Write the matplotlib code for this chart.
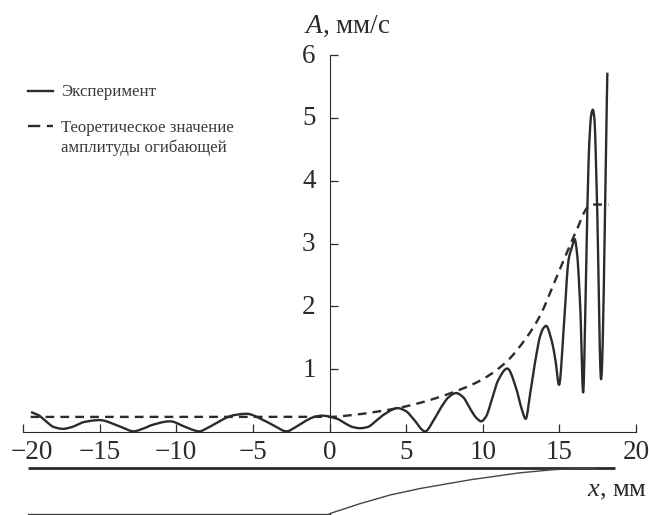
import matplotlib
matplotlib.use("Agg")
from matplotlib import pyplot as plt
from matplotlib.lines import Line2D
from matplotlib.transforms import ScaledTranslation
import numpy as np

plt.rcParams["font.family"] = ["Liberation Serif", "DejaVu Serif"]
plt.rcParams["mathtext.fontset"] = "custom"
plt.rcParams["mathtext.rm"] = "Liberation Serif"
plt.rcParams["mathtext.it"] = "Liberation Serif:italic"

INK = "#2b2b2b"

exp_x = [-19.4, -19.0, -18.5, -18.0, -17.4, -16.8, -16.0, -15.0, -14.0, -13.4, -12.8, -12.2, -11.6,
         -10.4, -9.5, -9.0, -8.5, -8.0, -7.4, -6.8, -6.2, -5.4, -4.4, -3.6, -2.8,
         -2.2, -1.6, -1.0, -0.5, 0.5, 1.0, 1.5, 2.0, 2.5, 3.0, 3.5, 4.46, 5.0, 5.5, 6.24, 6.8, 7.3, 7.8,
         8.26, 8.7, 9.2, 9.6, 9.9, 10.2, 10.6, 11.0, 11.6, 12.2, 12.5, 12.8, 13.1, 13.44, 13.76, 13.95,
         14.13, 14.5, 14.74, 14.98, 15.29, 15.6, 15.83, 16.0, 16.15, 16.37, 16.55, 16.7, 16.83, 16.95,
         17.08, 17.18, 17.28, 17.46, 17.72, 18.13]
exp_y = [0.31, 0.27, 0.17, 0.08, 0.05, 0.08, 0.16, 0.19, 0.12, 0.06, 0.01, 0.05, 0.11,
         0.17, 0.09, 0.04, 0.01, 0.06, 0.14, 0.22, 0.27, 0.29, 0.20, 0.10, 0.01,
         0.08, 0.17, 0.24, 0.26, 0.21, 0.14, 0.08, 0.06, 0.08, 0.17, 0.27, 0.38, 0.33, 0.20, 0.01, 0.19, 0.40, 0.56,
         0.62, 0.56, 0.36, 0.22, 0.17, 0.24, 0.52, 0.82, 1.01, 0.68, 0.40, 0.21, 0.62, 1.15, 1.54, 1.65,
         1.69, 1.45, 1.15, 0.75, 1.68, 2.74, 2.95, 3.07, 2.85, 1.94, 0.63, 2.00, 3.60, 4.60,
         5.05, 5.13, 5.00, 3.62, 0.84, 5.70]

theory_x = [-19.5, -15, -10, -5, 0, 1.5, 3, 4.46, 6, 8.26, 9.85, 11.47, 12.67, 13.76, 14.52, 15.29, 16.05, 16.9, 17.2, 18.2]
theory_y = [0.24, 0.24, 0.24, 0.24, 0.24, 0.27, 0.32, 0.38, 0.47, 0.65, 0.82, 1.10, 1.44, 1.86, 2.29, 2.74, 3.17, 3.59, 3.62, 3.62]

# channel sketch under the axis, same units as the plot
top_x = [-19.7, 18.6]
top_y = [-0.575, -0.575]
flat_x = [-19.7, 0.0]
flat_y = [-1.30, -1.30]
slope_x = [0.0, 2.0, 4.0, 5.9, 9.2, 12.4, 14.6, 16.3, 17.4]
slope_y = [-1.30, -1.14, -1.00, -0.90, -0.76, -0.65, -0.60, -0.58, -0.575]

x_ticks = [-20, -15, -10, -5, 0, 5, 10, 15, 20]
x_labels = ["\u221220", "\u221215", "\u221210", "\u22125", "0", "5", "10", "15", "20"]
y_ticks = [1, 2, 3, 4, 5, 6]


def smooth(x, y, per_seg=12):
    # monotone cubic through the read points, so the peaks come out round
    x = np.asarray(x, float)
    y = np.asarray(y, float)
    h = np.diff(x)
    s = np.diff(y) / h
    m = np.zeros_like(y)
    m[0], m[-1] = s[0], s[-1]
    for i in range(1, len(x) - 1):
        if s[i - 1] * s[i] > 0:
            w1 = 2 * h[i] + h[i - 1]
            w2 = h[i] + 2 * h[i - 1]
            m[i] = (w1 + w2) / (w1 / s[i - 1] + w2 / s[i])
    xs, ys = [], []
    for i in range(len(h)):
        t = np.linspace(0, 1, per_seg, endpoint=False)
        xs.append(x[i] + t * h[i])
        ys.append((2 * t**3 - 3 * t**2 + 1) * y[i] + (t**3 - 2 * t**2 + t) * h[i] * m[i]
                  + (-2 * t**3 + 3 * t**2) * y[i + 1] + (t**3 - t**2) * h[i] * m[i + 1])
    return np.append(np.concatenate(xs), x[-1]), np.append(np.concatenate(ys), y[-1])


fig = plt.figure(figsize=(6.49, 5.15), dpi=100)
ax = fig.add_axes([23 / 649, (515 - 432) / 515, 613 / 649, 377 / 515])

dash = (0, (3.7, 2.6))
ax.plot(*smooth(exp_x, exp_y), color=INK, lw=1.7, solid_joinstyle="round", zorder=3)
ax.plot(*smooth(theory_x, theory_y), color=INK, lw=1.7, linestyle=dash, zorder=2)
ax.plot(top_x, top_y, color=INK, lw=2.0, clip_on=False, solid_capstyle="butt")
ax.plot(flat_x, flat_y, color="#444444", lw=1.0, clip_on=False)
ax.plot(slope_x, slope_y, color="#444444", lw=1.0, clip_on=False)

ax.set_xlim(-20, 20)
ax.set_ylim(0, 6)
ax.spines["top"].set_visible(False)
ax.spines["right"].set_visible(False)
ax.spines["left"].set_position(("data", 0))
ax.spines["left"].set_color(INK)
ax.spines["bottom"].set_color(INK)

ax.set_xticks(x_ticks)
ax.set_xticklabels(x_labels)
ax.set_yticks(y_ticks)
ax.tick_params(axis="x", direction="in", length=6, width=0.9, color=INK, labelsize=19.5, labelcolor=INK, pad=6)
ax.tick_params(axis="y", direction="in", length=6, width=0.9, color=INK, labelsize=19.5, labelcolor=INK, pad=10)

# the -20 label sits a little right of its tick
lbl = ax.get_xticklabels()[0]
lbl.set_transform(lbl.get_transform() + ScaledTranslation(9 / 100, 0, fig.dpi_scale_trans))
for lbl in ax.get_yticklabels():
    lbl.set_transform(lbl.get_transform() + ScaledTranslation(0, 2 / 100, fig.dpi_scale_trans))

fig.text(304 / 649, 1 - 33 / 515, r"$\mathit{A}$, мм/с", fontsize=19.5, color=INK, ha="left", va="baseline")
fig.text(587 / 649, 1 - 496 / 515, r"$\mathit{x}$, мм", fontsize=19, color=INK, ha="left", va="baseline")

# legend by hand: the dashed key lines up with the first text line, not the middle
fig.add_artist(Line2D([28 / 649, 53 / 649], [1 - 90.5 / 515] * 2, color=INK, lw=1.7))
fig.add_artist(Line2D([28 / 649, 53 / 649], [1 - 126 / 515] * 2, color=INK, lw=1.7, linestyle=(0, (5.2, 2.8))))
fig.text(61 / 649, 1 - 96 / 515, "Эксперимент", fontsize=12.1, color="#3a3a3a", va="baseline")
fig.text(61 / 649, 1 - 132 / 515, "Теоретическое значение", fontsize=12.1, color="#3a3a3a", va="baseline")
fig.text(61 / 649, 1 - 151.5 / 515, "амплитуды огибающей", fontsize=12.1, color="#3a3a3a", va="baseline")

fig.savefig("out.png", dpi=100)
plt.close(fig)
